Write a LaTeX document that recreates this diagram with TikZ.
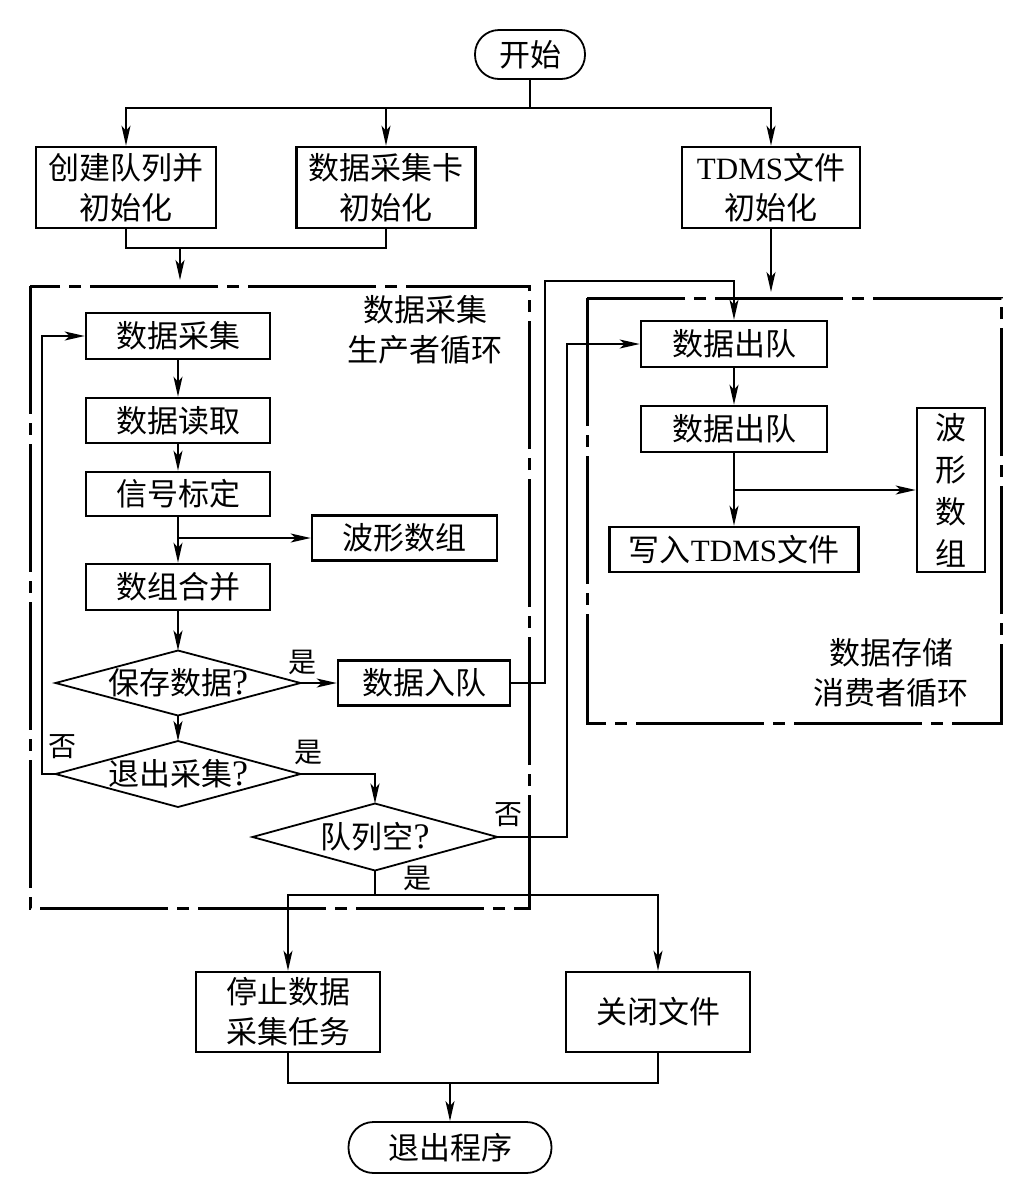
\documentclass[tikz,border=0pt]{standalone}
\usepackage{fontspec}
\setmainfont{Liberation Serif}
\newfontfamily\cjk{Noto Sans CJK SC}
\usetikzlibrary{arrows.meta,shapes.geometric}
\newcommand{\qm}{{\rmfamily\fontsize{36}{40}\selectfont ?}}
\tikzset{
  box/.style={draw, line width=2.6pt, inner sep=0pt, align=center,
    font=\cjk\fontsize{31}{40}\selectfont},
  term/.style={draw, line width=1.8pt, inner sep=0pt, align=center,
    font=\cjk\fontsize{31}{40}\selectfont},
  dia/.style={draw, diamond, line width=1.8pt, inner sep=0pt, outer sep=0pt},
  dtext/.style={font=\cjk\fontsize{31}{40}\selectfont, inner sep=0pt},
  conn/.style={line width=1.8pt},
  arr/.style={conn, -{Stealth[length=20pt,width=9pt,inset=5pt]}},
  loopbox/.style={line width=3pt, dash pattern=on 128pt off 9pt on 12pt off 9pt},
  lbl/.style={font=\cjk\fontsize{28}{30}\selectfont, inner sep=0pt},
  note/.style={font=\cjk\fontsize{31}{40}\selectfont, align=center, inner sep=0pt},
}
\begin{document}
\begin{tikzpicture}[x=1pt,y=-1pt]
\useasboundingbox[fill=white] (0,0) rectangle (1024,1195);

% loop frames
\draw[loopbox] (30,286) rectangle (529,908);
\draw[loopbox] (587,298) rectangle (1001,723);

% top
\node[term, rounded corners=24pt, minimum width=110pt, minimum height=49pt] (start) at (530,54.5) {开始};
\node[box, minimum width=180pt, minimum height=81pt] (b1) at (126,187.5) {创建队列并\\初始化};
\node[box, minimum width=179pt, minimum height=81pt] (b2) at (386,187.5) {数据采集卡\\初始化};
\node[box, minimum width=178pt, minimum height=81pt] (b3) at (771,187.5) {{\rmfamily TDMS}文件\\初始化};

\coordinate (split) at (530,108);
\draw[conn] (start.south) -- (split);
\draw[arr] (split) -| (b1.north);
\draw[arr] (split) -| (b2.north);
\draw[arr] (split) -| (b3.north);

\coordinate (j1) at (180,247);
\coordinate (pin) at (180,280);
\draw[conn] (b1.south) -- ++(0,19) -| (b2.south);
\draw[arr] (j1) -- (pin);
\coordinate (cin) at (771,292);
\draw[arr] (b3.south) -- (cin);

% producer loop
\node[note] (ptxt) at (425,330) {数据采集\\生产者循环};
\node[box, minimum width=184pt, minimum height=46pt] (n1) at (178,336) {数据采集};
\node[box, minimum width=184pt, minimum height=45pt] (n2) at (178,420.5) {数据读取};
\node[box, minimum width=184pt, minimum height=44pt] (n3) at (178,494) {信号标定};
\node[box, minimum width=185pt, minimum height=45pt] (wf1) at (404.5,538) {波形数组};
\node[box, minimum width=184pt, minimum height=46pt] (n4) at (178,587) {数组合并};
\node[dia, minimum width=245pt, minimum height=65pt,
  label={[dtext]center:{保存数据\qm}}] (d1) at (178,683) {};
\node[box, minimum width=172pt, minimum height=45pt] (q1) at (424,683) {数据入队};
\node[dia, minimum width=245pt, minimum height=66pt,
  label={[dtext]center:{退出采集\qm}}] (d2) at (178,774) {};
\node[dia, minimum width=245pt, minimum height=67pt,
  label={[dtext]center:{队列空\qm}}] (d3) at (375,837) {};

\draw[arr] (n1.south) -- (n2.north);
\draw[arr] (n2.south) -- (n3.north);
\draw[arr] (n3.south) -- (n4.north);
\draw[arr] (n3.south |- wf1.west) -- (wf1.west);
\draw[arr] (n4.south) -- (d1.north);
\draw[arr] (d1.east) -- (q1.west);
\draw[arr] (d1.south) -- (d2.north);
\draw[arr] (d2.west) -- (42,774) |- (n1.west);
\draw[arr] (d2.east) -| (d3.north);

\node[lbl] (l1) at (302,662) {是};
\node[lbl] (l2) at (62,747) {否};
\node[lbl] (l3) at (308,752) {是};
\node[lbl] (l4) at (508,815) {否};
\node[lbl] (l5) at (417,878) {是};

% consumer loop
\node[box, minimum width=186pt, minimum height=46pt] (o1) at (734,344) {数据出队};
\node[box, minimum width=186pt, minimum height=46pt] (o2) at (734,429) {数据出队};
\node[box, minimum width=249pt, minimum height=45pt] (w1) at (734,549.5) {写入{\rmfamily TDMS}文件};
\node[box, minimum width=68pt, minimum height=164pt, font=\cjk\fontsize{31}{42}\selectfont] (wf2) at (951,490) {波\\形\\数\\组};
\node[note] (ctxt) at (891,673) {数据存储\\消费者循环};

\draw[arr] (o1.south) -- (o2.north);
\draw[arr] (o2.south) -- (w1.north);
\draw[arr] (o2.south |- wf2.west) -- (wf2.west);
\draw[arr] (q1.east) -| (545,281) -| (o1.north);
\draw[arr] (d3.east) -- (567,837) |- (o1.west);

% bottom
\node[box, minimum width=184pt, minimum height=80pt] (s1) at (288,1012) {停止数据\\采集任务};
\node[box, minimum width=184pt, minimum height=80pt] (s2) at (658,1012) {关闭文件};
\node[term, rounded corners=25pt, minimum width=203pt, minimum height=51pt] (fin) at (450,1147.5) {退出程序};

\coordinate (split2) at (375,895);
\draw[conn] (d3.south) -- (split2);
\draw[arr] (split2) -| (s1.north);
\draw[arr] (split2) -| (s2.north);
\coordinate (j2) at (450,1082);
\draw[conn] (s1.south) -- ++(0,30) -| (s2.south);
\draw[arr] (j2) -- (fin.north);
\end{tikzpicture}
\end{document}
